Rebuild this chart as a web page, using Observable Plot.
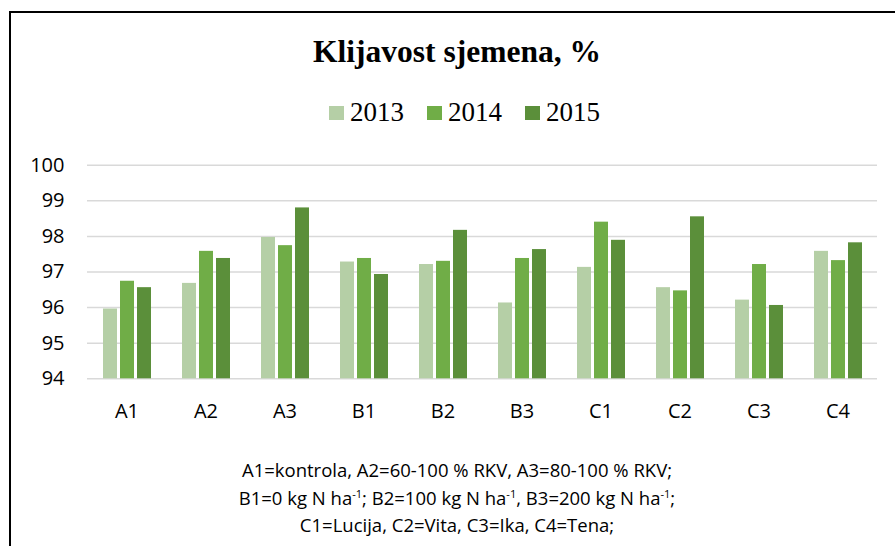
<!DOCTYPE html>
<html>
<head>
<meta charset="utf-8">
<script src="https://cdn.jsdelivr.net/npm/d3@7"></script>
<script src="https://cdn.jsdelivr.net/npm/@observablehq/plot@0.6"></script>
<style>
  html, body { margin: 0; padding: 0; background: #fff; }
  #wrap { position: relative; width: 895px; height: 546px; overflow: hidden; background: #fff; }
  #frame { position: absolute; left: 9px; top: 11px; width: 1000px; height: 700px; border-left: 2px solid #000; border-top: 2px solid #000; }
  #title { position: absolute; left: 0; width: 914px; top: 36px; text-align: center; font-family: "Liberation Serif", "Times New Roman", serif; font-weight: bold; font-size: 31.5px; line-height: 1; color: #000; }
  #legend { position: absolute; left: 329px; top: 99px; display: flex; align-items: center; font-family: "Liberation Serif", "Times New Roman", serif; font-size: 27px; line-height: 1; color: #000; }
  #legend .item { display: flex; align-items: center; margin-right: 23px; }
  #legend .sw { width: 15px; height: 14px; margin-right: 6px; }
  #chart { position: absolute; left: 0; top: 140px; }
  #chart svg text { font-family: "Open Sans", sans-serif; font-size: 20px; fill: #000; }
  #caption { position: absolute; left: 0; width: 914px; top: 456px; text-align: center; font-family: "Open Sans", sans-serif; font-size: 18.5px; line-height: 27.5px; color: #000; }
  #caption sup { font-size: 0.6em; line-height: 0; vertical-align: super; }
</style>
</head>
<body>
<div id="wrap">
  <div id="frame"></div>
  <div id="title"></div>
  <div id="legend"></div>
  <div id="chart"></div>
  <div id="caption"></div>
</div>
<script>
const titleText = "Klijavost sjemena, %";
const categories = ["A1", "A2", "A3", "B1", "B2", "B3", "C1", "C2", "C3", "C4"];
const years = ["2013", "2014", "2015"];
const v2013 = [95.96, 96.68, 97.97, 97.28, 97.21, 96.13, 97.13, 96.56, 96.21, 97.58];
const v2014 = [96.74, 97.58, 97.74, 97.38, 97.30, 97.38, 98.40, 96.47, 97.21, 97.32];
const v2015 = [96.56, 97.38, 98.80, 96.93, 98.17, 97.63, 97.89, 98.55, 96.06, 97.82];
const yTicks = [94, 95, 96, 97, 98, 99, 100];
const yMin = 94, yMax = 100;
const colors = ["#B5CFA6", "#70AD47", "#5B8F3A"];
const captionLines = [
  "A1=kontrola, A2=60-100 % RKV, A3=80-100 % RKV;",
  "B1=0 kg N ha<sup>-1</sup>; B2=100 kg N ha<sup>-1</sup>, B3=200 kg N ha<sup>-1</sup>;",
  "C1=Lucija, C2=Vita, C3=Ika, C4=Tena;"
];

const series = [v2013, v2014, v2015];
const data = categories.flatMap((c, i) => series.map((s, j) => ({category: c, year: years[j], value: s[i]})));

document.getElementById("title").textContent = titleText;
const legend = document.getElementById("legend");
years.forEach((y, j) => {
  const item = document.createElement("div");
  item.className = "item";
  const sw = document.createElement("span");
  sw.className = "sw";
  sw.style.background = colors[j];
  const t = document.createElement("span");
  t.textContent = y;
  item.appendChild(sw);
  item.appendChild(t);
  legend.appendChild(item);
});
document.getElementById("caption").innerHTML = captionLines.join("<br>");

const chart = Plot.plot({
  width: 895,
  height: 300,
  marginTop: 24.7,
  marginBottom: 61.7,
  marginLeft: 86,
  marginRight: 17,
  style: {fontFamily: "'Open Sans', sans-serif", fontSize: "20px", color: "#000", background: "transparent", overflow: "visible"},
  facet: {data, x: "category", marginBottom: 61.7},
  fx: {domain: categories, padding: 0, axis: "bottom", tickSize: 0, tickPadding: 25, label: null},
  x: {domain: years, paddingInner: 0.2, paddingOuter: 0.85, axis: null},
  y: {domain: [yMin, yMax], ticks: yTicks, tickSize: 0, tickPadding: 23, label: null, tickFormat: d => String(d)},
  color: {domain: years, range: colors},
  marks: [
    Plot.ruleY(yTicks, {stroke: "#d9d9d9", strokeWidth: 1.5}),
    Plot.barY(data, {x: "year", y1: yMin, y2: "value", fill: "year"})
  ]
});
document.getElementById("chart").appendChild(chart);
</script>
</body>
</html>
